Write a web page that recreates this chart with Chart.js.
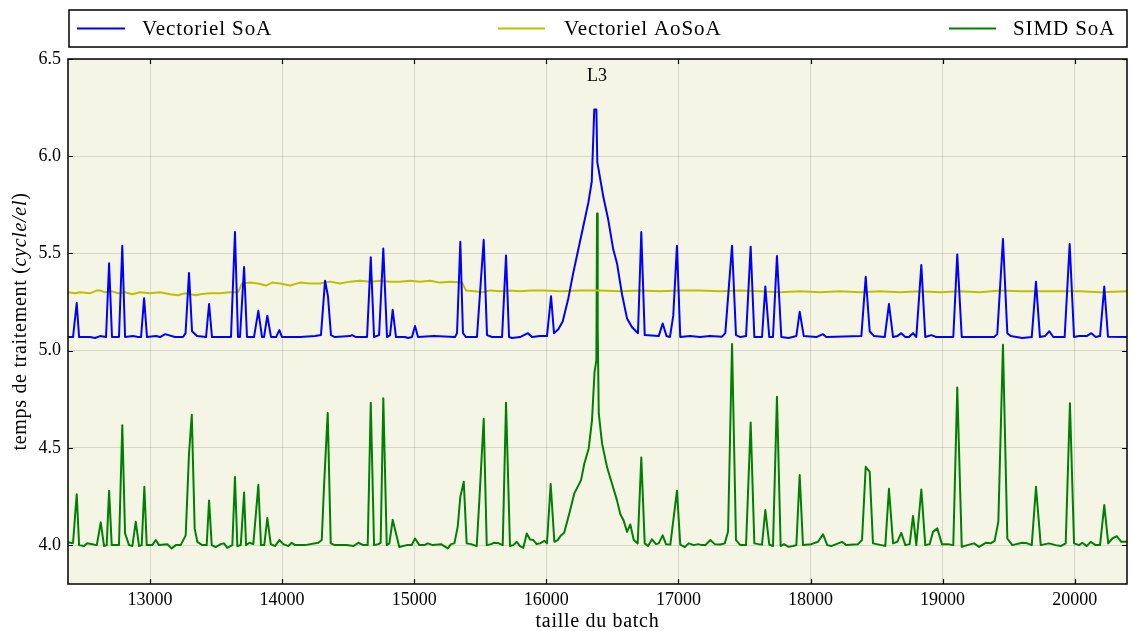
<!DOCTYPE html>
<html>
<head>
<meta charset="utf-8">
<script src="https://cdn.jsdelivr.net/npm/chart.js@4.4.0/dist/chart.umd.min.js"></script>
<style>
html, body { margin: 0; padding: 0; background: #fff; }
</style>
</head>
<body>
<canvas id="myChart" width="1133" height="631"></canvas>
<script>
// batch sizes / cycles per element
const soaX = [12379,12417,12445,12463,12546,12584,12621,12667,12690,12712,12765,12790,12811,12871,12909,12932,12955,12977,13045,13076,13114,13189,13250,13269,13295,13318,13356,13424,13447,13469,13545,13613,13643,13666,13681,13712,13734,13787,13820,13848,13863,13888,13916,13954,13979,13999,14098,14136,14249,14294,14325,14347,14370,14400,14514,14529,14559,14643,14671,14696,14734,14766,14794,14817,14837,14862,14930,14953,14983,15006,15029,15150,15309,15324,15349,15369,15392,15475,15526,15551,15589,15665,15695,15718,15740,15801,15861,15892,15952,16005,16036,16058,16091,16124,16167,16204,16242,16280,16318,16344,16363,16379,16386,16432,16467,16507,16535,16573,16611,16649,16694,16719,16745,16851,16881,16910,16936,16961,16989,17014,17088,17164,17239,17330,17355,17406,17436,17469,17512,17547,17575,17633,17658,17688,17716,17746,17779,17835,17893,17918,17949,18044,18095,18120,18385,18418,18448,18481,18562,18594,18625,18657,18687,18718,18746,18776,18801,18839,18869,18914,18952,19081,19111,19145,19390,19414,19457,19490,19515,19603,19675,19707,19737,19775,19808,19838,19924,19962,19995,20033,20091,20126,20159,20192,20224,20252,20396];
const soaY = [5.07,5.07,5.245,5.07,5.07,5.065,5.075,5.07,5.45,5.07,5.07,5.54,5.07,5.075,5.07,5.07,5.27,5.07,5.075,5.07,5.085,5.07,5.07,5.09,5.40,5.10,5.075,5.07,5.24,5.07,5.07,5.07,5.61,5.07,5.07,5.43,5.07,5.07,5.205,5.07,5.07,5.18,5.07,5.07,5.106,5.07,5.07,5.07,5.075,5.08,5.36,5.28,5.08,5.07,5.075,5.08,5.07,5.07,5.48,5.07,5.08,5.525,5.07,5.08,5.21,5.07,5.07,5.065,5.07,5.127,5.07,5.075,5.07,5.09,5.56,5.09,5.07,5.07,5.57,5.08,5.07,5.07,5.49,5.07,5.065,5.07,5.09,5.07,5.075,5.075,5.28,5.09,5.11,5.15,5.27,5.40,5.52,5.64,5.76,5.87,6.24,6.24,5.97,5.79,5.68,5.52,5.45,5.29,5.166,5.12,5.09,5.61,5.08,5.075,5.14,5.075,5.07,5.18,5.54,5.07,5.075,5.07,5.075,5.072,5.09,5.54,5.08,5.07,5.075,5.535,5.07,5.07,5.33,5.07,5.07,5.487,5.07,5.065,5.075,5.20,5.075,5.07,5.085,5.07,5.075,5.38,5.10,5.075,5.07,5.24,5.07,5.075,5.09,5.07,5.07,5.09,5.07,5.44,5.07,5.08,5.07,5.07,5.495,5.07,5.07,5.085,5.574,5.09,5.075,5.065,5.07,5.355,5.07,5.075,5.10,5.07,5.07,5.548,5.07,5.075,5.075,5.09,5.07,5.075,5.33,5.072,5.07];

const aosoaX = [12379,12432,12470,12546,12599,12621,12659,12712,12758,12811,12864,12924,13000,13076,13151,13212,13265,13348,13379,13454,13530,13606,13666,13696,13757,13818,13878,13924,13984,14060,14136,14211,14287,14363,14438,14514,14590,14665,14741,14817,14893,14968,15044,15120,15195,15271,15362,15392,15460,15513,15574,15650,15725,15801,15877,15990,16104,16255,16407,16558,16709,16861,17012,17164,17315,17466,17618,17769,17921,18072,18223,18375,18526,18678,18829,18980,19132,19283,19435,19586,19737,19889,20040,20192,20396];
const aosoaY = [5.30,5.295,5.30,5.295,5.31,5.31,5.30,5.305,5.295,5.30,5.29,5.30,5.295,5.30,5.29,5.285,5.295,5.285,5.29,5.295,5.295,5.30,5.30,5.345,5.35,5.345,5.335,5.35,5.345,5.335,5.35,5.345,5.345,5.355,5.345,5.355,5.36,5.355,5.36,5.355,5.355,5.36,5.355,5.36,5.35,5.355,5.35,5.31,5.305,5.30,5.31,5.305,5.31,5.305,5.31,5.31,5.305,5.31,5.31,5.305,5.31,5.305,5.31,5.31,5.305,5.31,5.305,5.30,5.305,5.30,5.305,5.30,5.305,5.30,5.305,5.30,5.305,5.30,5.31,5.305,5.305,5.305,5.305,5.30,5.305];

const simdX = [12379,12417,12445,12463,12500,12525,12597,12627,12652,12672,12690,12710,12765,12790,12811,12841,12866,12892,12917,12937,12957,12975,13017,13043,13068,13131,13164,13195,13232,13270,13295,13316,13338,13358,13396,13429,13447,13467,13497,13535,13560,13585,13623,13643,13661,13687,13712,13727,13752,13782,13820,13840,13865,13888,13914,13946,13979,14009,14047,14073,14098,14173,14274,14300,14317,14345,14368,14400,14438,14489,14539,14577,14615,14648,14671,14696,14728,14746,14766,14792,14812,14837,14887,14943,14981,15006,15039,15077,15102,15140,15203,15254,15279,15304,15329,15349,15375,15397,15430,15473,15493,15526,15549,15581,15606,15640,15670,15695,15725,15750,15776,15801,15826,15852,15877,15902,15927,15952,15985,16005,16033,16061,16086,16111,16136,16174,16212,16263,16288,16321,16346,16365,16379,16384,16389,16397,16422,16460,16497,16535,16560,16586,16611,16636,16662,16692,16719,16745,16770,16800,16830,16851,16881,16906,16939,16989,17014,17048,17078,17116,17148,17179,17204,17242,17275,17317,17351,17376,17406,17436,17469,17512,17547,17575,17608,17633,17658,17688,17716,17746,17774,17799,17835,17868,17893,17918,17943,18006,18057,18095,18127,18157,18195,18238,18271,18360,18390,18418,18448,18473,18536,18566,18594,18625,18657,18687,18718,18751,18776,18801,18839,18869,18902,18927,18960,18995,19041,19081,19111,19145,19187,19238,19276,19326,19364,19394,19422,19457,19490,19528,19603,19641,19675,19707,19743,19805,19856,19894,19932,19964,19995,20033,20058,20091,20121,20159,20192,20224,20254,20285,20318,20353,20396];
const simdY = [4.015,4.01,4.262,4.0,3.995,4.01,4.0,4.117,3.995,4.0,4.28,4.0,4.0,4.617,4.06,4.0,3.995,4.12,3.995,4.0,4.30,4.0,4.0,4.026,4.0,4.005,3.983,4.0,4.0,4.05,4.47,4.67,4.086,4.017,4.0,4.0,4.23,4.0,3.99,4.005,4.009,3.986,4.0,4.35,3.995,4.0,4.27,4.0,4.012,4.005,4.31,4.0,4.0,4.14,4.005,3.995,4.026,4.005,3.995,4.012,4.0,4.0,4.012,4.026,4.30,4.68,4.009,4.0,4.0,4.0,3.995,4.012,4.0,4.0,4.732,4.0,4.005,4.012,4.755,4.0,4.009,4.13,3.99,4.0,4.0,4.034,4.0,4.0,4.009,4.0,4.005,3.983,4.005,4.009,4.094,4.248,4.326,4.009,4.005,3.995,4.23,4.65,4.0,4.005,4.012,4.009,4.0,4.732,3.995,4.0,4.017,3.995,3.986,4.06,4.029,4.026,4.005,4.009,4.022,4.009,4.314,4.017,4.026,4.05,4.065,4.163,4.266,4.334,4.42,4.497,4.643,4.89,4.95,5.706,5.12,4.677,4.523,4.40,4.317,4.23,4.16,4.125,4.068,4.106,4.026,4.009,4.45,4.009,3.995,4.03,4.005,4.009,4.05,4.005,4.003,4.28,4.003,3.99,4.009,4.0,4.005,4.0,4.0,4.026,4.005,4.003,4.009,4.07,5.034,4.026,4.0,4.0,4.63,4.009,4.005,4.003,4.18,4.003,3.995,4.763,3.995,4.005,3.991,3.995,4.0,4.36,4.0,4.005,4.017,4.055,4.0,3.995,4.005,4.017,4.0,4.005,4.026,4.403,4.377,4.009,4.0,3.995,4.29,4.009,4.017,4.063,4.0,4.005,4.15,4.0,4.286,4.0,4.005,4.068,4.086,4.005,4.005,4.0,4.81,3.991,4.0,4.009,3.991,4.012,4.009,4.022,4.12,5.03,4.034,4.0,4.012,4.009,4.0,4.30,4.0,4.009,4.0,3.995,4.009,4.729,4.009,4.0,4.012,3.995,4.017,4.0,4.0,4.206,4.009,4.034,4.046,4.017,4.017];

const xTicks = [13000, 14000, 15000, 16000, 17000, 18000, 19000, 20000];
const yTicks = [4.0, 4.5, 5.0, 5.5, 6.0, 6.5];
const seriesNames = ['Vectoriel SoA', 'Vectoriel AoSoA', 'SIMD SoA'];
const l3Label = 'L3';
const l3X = 16384;

const FONT = '"Liberation Serif", "DejaVu Serif", serif';

function pts(xs, ys) {
    return xs.map((x, i) => ({ x: x, y: ys[i] }));
}

// background, frame, inward ticks, legend box, labels
const decor = {
    id: 'decor',
    beforeDraw(chart) {
        const { ctx, chartArea: a } = chart;
        ctx.save();
        ctx.fillStyle = '#f5f5e6';
        ctx.fillRect(a.left, a.top, a.right - a.left, a.bottom - a.top);
        ctx.restore();
    },
    afterDraw(chart) {
        const { ctx, chartArea: a, scales } = chart;
        ctx.save();
        ctx.strokeStyle = '#000';
        ctx.lineWidth = 1.5;
        ctx.strokeRect(a.left, a.top, a.right - a.left, a.bottom - a.top);

        ctx.lineWidth = 1.2;
        ctx.beginPath();
        xTicks.forEach(v => {
            const px = Math.round(scales.x.getPixelForValue(v)) + 0.5;
            ctx.moveTo(px, a.bottom); ctx.lineTo(px, a.bottom - 5);
            ctx.moveTo(px, a.top); ctx.lineTo(px, a.top + 5);
        });
        yTicks.forEach(v => {
            const py = Math.round(scales.y.getPixelForValue(v)) + 0.5;
            ctx.moveTo(a.left, py); ctx.lineTo(a.left + 5, py);
            ctx.moveTo(a.right, py); ctx.lineTo(a.right - 5, py);
        });
        ctx.stroke();

        // L3 marker text
        ctx.fillStyle = '#000';
        ctx.font = '18px ' + FONT;
        ctx.textAlign = 'center';
        ctx.textBaseline = 'alphabetic';
        ctx.fillText(l3Label, scales.x.getPixelForValue(l3X), a.top + 22);

        // legend (spread over the width, like mode="expand")
        ctx.fillStyle = '#fff';
        ctx.fillRect(69, 10, 1058, 37);
        ctx.lineWidth = 1.5;
        ctx.strokeStyle = '#000';
        ctx.strokeRect(69, 10, 1058, 37);
        const slots = [[77, 125, 142], [498, 545, 564], [949, 996, 1013]];
        ctx.font = '21px ' + FONT;
        ctx.letterSpacing = '0.9px';
        ctx.textAlign = 'left';
        ctx.textBaseline = 'middle';
        chart.data.datasets.forEach((ds, i) => {
            const s = slots[i];
            ctx.strokeStyle = ds.borderColor;
            ctx.lineWidth = 2;
            ctx.beginPath();
            ctx.moveTo(s[0], 28.5); ctx.lineTo(s[1], 28.5);
            ctx.stroke();
            ctx.fillStyle = '#000';
            ctx.fillText(ds.label, s[2], 29);
        });

        // y axis title with italic unit
        const parts = [['temps de traitement (', ''], ['cycle/el', 'italic '], [')', '']];
        ctx.translate(21, (a.top + a.bottom) / 2);
        ctx.rotate(-Math.PI / 2);
        ctx.letterSpacing = '0.7px';
        let total = 0;
        parts.forEach(p => { ctx.font = p[1] + '20px ' + FONT; total += ctx.measureText(p[0]).width; });
        let x0 = -total / 2;
        ctx.textAlign = 'left';
        ctx.textBaseline = 'middle';
        parts.forEach(p => {
            ctx.font = p[1] + '20px ' + FONT;
            ctx.fillText(p[0], x0, 0);
            x0 += ctx.measureText(p[0]).width;
        });
        ctx.restore();

        // x axis title
        ctx.save();
        ctx.fillStyle = '#000';
        ctx.font = '20px ' + FONT;
        ctx.letterSpacing = '0.7px';
        ctx.textAlign = 'center';
        ctx.textBaseline = 'middle';
        ctx.fillText('taille du batch', (a.left + a.right) / 2, 622);
        ctx.restore();
    }
};

const ctx = document.getElementById('myChart').getContext('2d');
const myChart = new Chart(ctx, {
    type: 'line',
    data: {
        datasets: [{
            label: seriesNames[0],
            data: pts(soaX, soaY),
            borderColor: '#0000ff'
        }, {
            label: seriesNames[1],
            data: pts(aosoaX, aosoaY),
            borderColor: '#bfbf00'
        }, {
            label: seriesNames[2],
            data: pts(simdX, simdY),
            borderColor: '#008000'
        }]
    },
    options: {
        responsive: false,
        animation: false,
        parsing: false,
        elements: {
            point: { radius: 0 },
            line: { tension: 0, borderWidth: 2, borderJoinStyle: 'round', borderCapStyle: 'round' }
        },
        layout: { padding: { left: 0, right: 6, top: 59, bottom: 0 } },
        plugins: { legend: { display: false }, tooltip: { enabled: false } },
        scales: {
            x: {
                type: 'linear',
                min: 12379,
                max: 20396,
                afterBuildTicks: s => { s.ticks = xTicks.map(v => ({ value: v })); },
                afterFit: s => { s.height = 47; },
                grid: { color: 'rgba(0,0,0,0.13)', drawTicks: false },
                border: { display: false },
                ticks: { color: '#000', padding: 5, font: { family: FONT, size: 18 }, maxRotation: 0, callback: v => String(v) },
                title: { display: false }
            },
            y: {
                min: 3.8,
                max: 6.5,
                afterBuildTicks: s => { s.ticks = yTicks.map(v => ({ value: v })); },
                afterFit: s => { s.width = 68; },
                grid: { color: 'rgba(0,0,0,0.13)', drawTicks: false },
                border: { display: false },
                ticks: { color: '#000', padding: 7, font: { family: FONT, size: 18 }, callback: v => v.toFixed(1) }
            }
        }
    },
    plugins: [decor]
});
</script>
</body>
</html>
